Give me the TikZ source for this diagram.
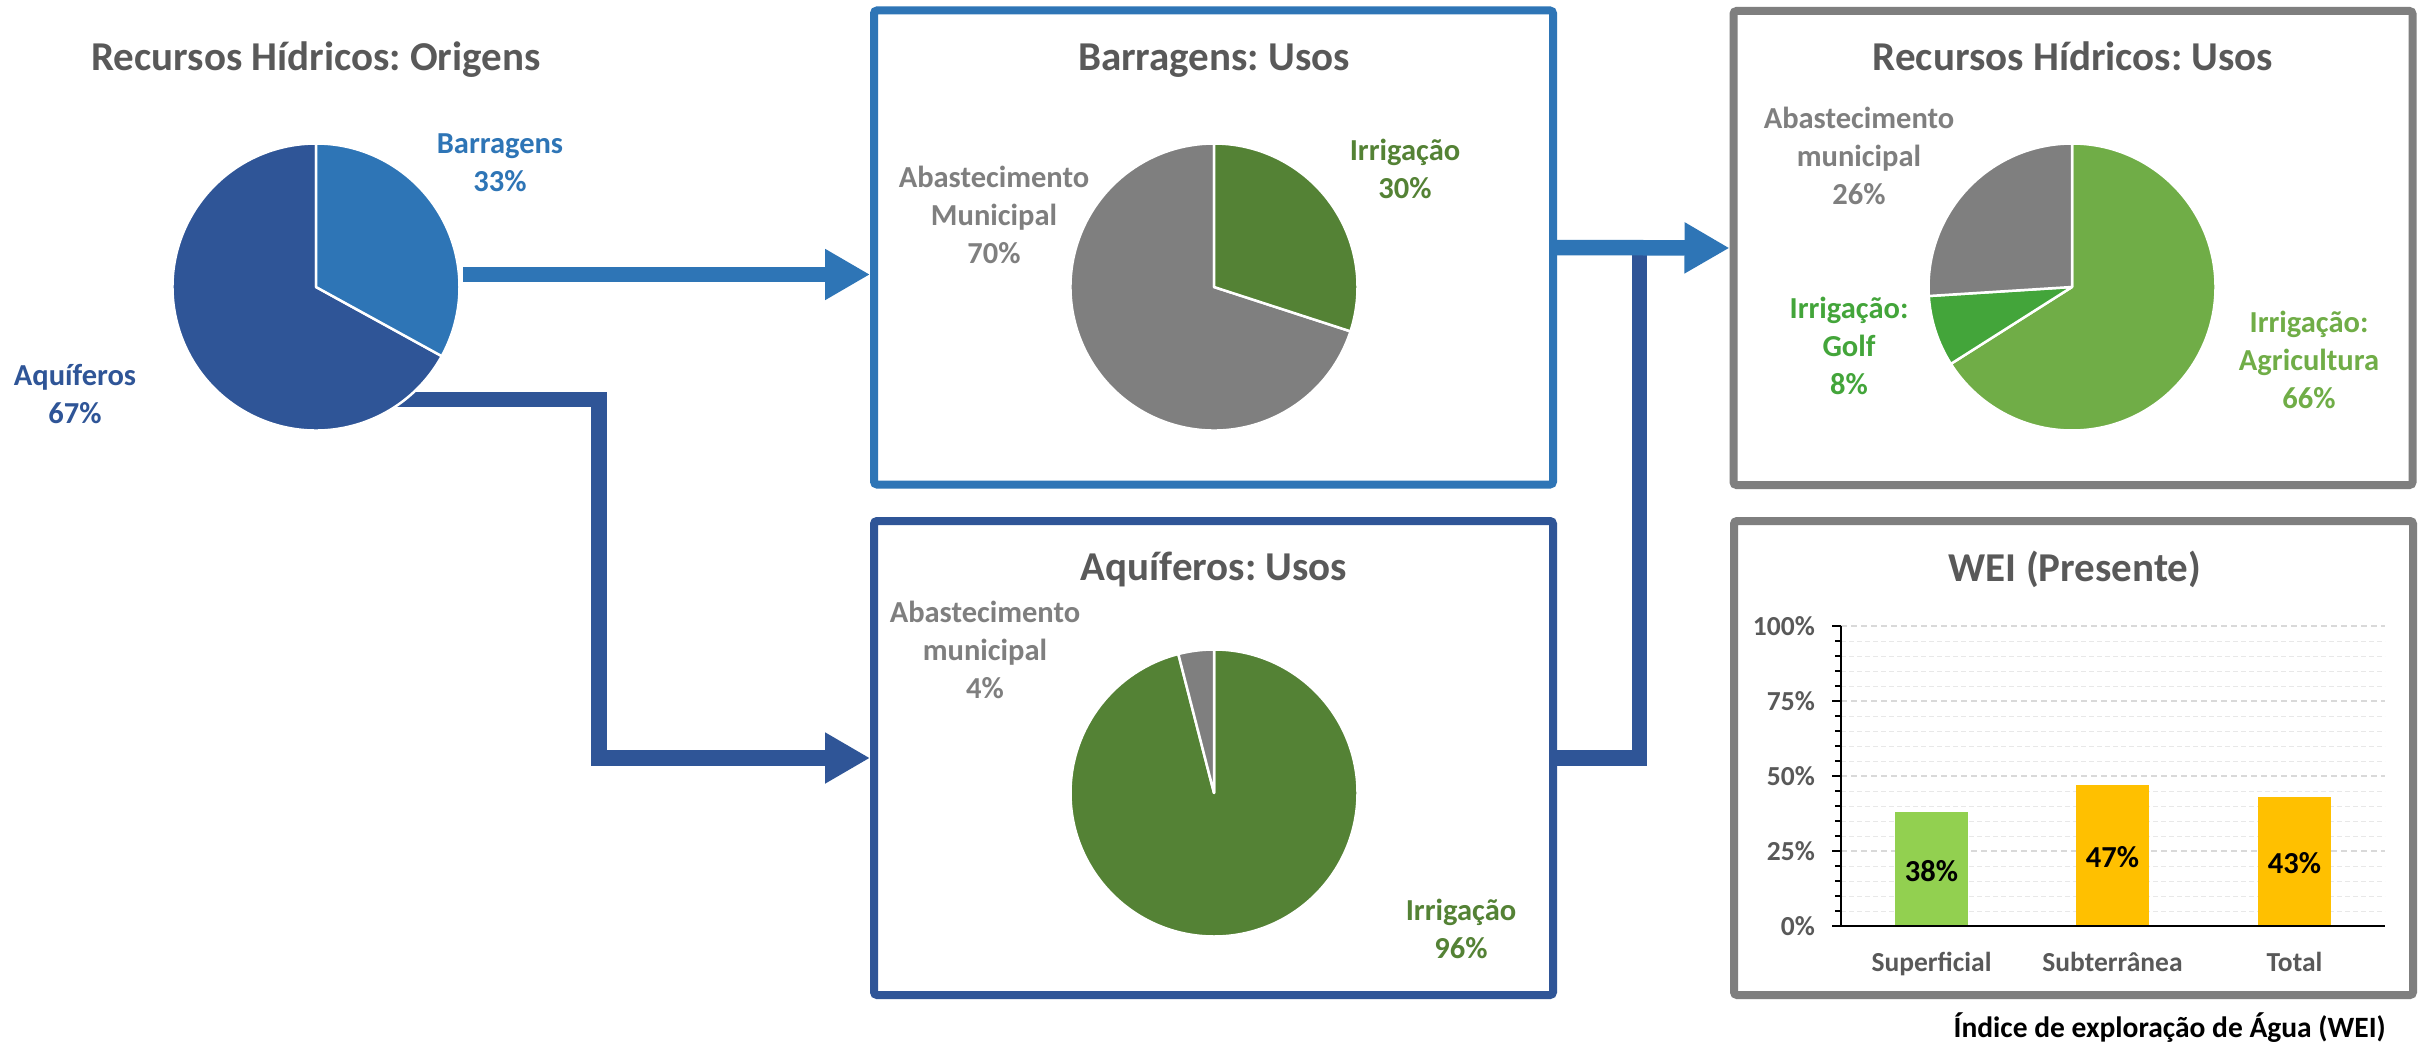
\documentclass[tikz,border=0pt]{standalone}
\usepackage{fontspec}
\setmainfont{Carlito}
\usepackage{tikz}
\usetikzlibrary{arrows.meta,positioning,calc}
\frenchspacing

\definecolor{blueL}{HTML}{2E75B6}
\definecolor{blueD}{HTML}{2F5597}
\definecolor{greenD}{HTML}{548235}
\definecolor{greenA}{HTML}{70AD47}
\definecolor{greenG}{HTML}{43A53A}
\definecolor{greyM}{HTML}{7F7F7F}
\definecolor{titlegrey}{HTML}{595959}
\definecolor{gridgrey}{HTML}{D9D9D9}
\definecolor{barGreen}{HTML}{92D050}
\definecolor{barYellow}{HTML}{FFC000}

\begin{document}
\begin{tikzpicture}[
  x=1pt, y=1pt,
  ttl/.style={font=\fontsize{41}{49}\selectfont\bfseries, text=titlegrey, anchor=base, inner sep=0pt},
  lbl/.style={font=\fontsize{30.5}{38}\selectfont\bfseries, align=center, inner sep=0pt},
  small/.style={font=\fontsize{27.5}{33}\selectfont\bfseries, inner sep=0pt},
  panel/.style={draw, line width=8pt, rounded corners=3pt, rectangle, minimum width=679pt, minimum height=474pt, inner sep=0pt},
  piebase/.style={circle, minimum size=287pt, inner sep=0pt, outer sep=0pt},
  slice/.style={draw=white, line width=2.5pt, line join=round},
  arrL/.style={-{Triangle[length=45pt, width=48pt]}, line width=15.5pt, blueL},
  arrD/.style={-{Triangle[length=45pt, width=48pt]}, line width=15.5pt, blueD},
  linkD/.style={line width=15.5pt, blueD},
  bar/.style={rectangle, minimum width=73pt, inner sep=0pt, anchor=south},
  gridmaj/.style={gridgrey, line width=2pt, dash pattern=on 6pt off 4pt},
  gridmin/.style={gridgrey!60, line width=1pt, dash pattern=on 5pt off 3pt},
  axisln/.style={black, line width=2pt}
]
\useasboundingbox[fill=white] (0,0) rectangle (2433,-1051);

% panels
\node[panel, draw=blueL] (boxB) at (1213.5,-247.5) {};
\node[panel, draw=blueD] (boxC) at (1213.5,-758) {};
\node[panel, draw=greyM] (boxD) at (2073,-248) {};
\node[panel, draw=greyM] (boxE) at (2073.5,-758) {};

% pie nodes
\node[piebase] (pieA) at (316,-287) {};
\node[piebase] (pieB) at (1214,-287) {};
\node[piebase] (pieC) at (1214,-793) {};
\node[piebase] (pieD) at (2072,-287) {};

% connectors
\draw[arrL] ([xshift=4.5pt]pieA.5.6) -- (pieA.5.6 -| boxB.west);
\draw[arrD] ([yshift=-112.5pt]pieA.center) -| ([xshift=-271pt]boxC.west) -- (boxC.west);
\draw[linkD] (boxC.east) -| ([xshift=-90pt]boxD.west);
\draw[arrL] (boxB.east) -- (boxD.west);

% origens
\draw[slice, fill=blueD] (pieA.center) -- ++(-28.8:143.5) arc[start angle=-28.8, end angle=-270, radius=143.5] -- cycle;
\draw[slice, fill=blueL] (pieA.center) -- ++(90:143.5) arc[start angle=90, end angle=-28.8, radius=143.5] -- cycle;
\node[ttl] (tOrig) at (316,-71) {Recursos Hídricos: Origens};
\node[lbl, text=blueL] (lBarr) at (500,-162.5) {Barragens\\33\%};
\node[lbl, text=blueD] (lAqui) at (75,-394) {Aquíferos\\67\%};

% barragens
\draw[slice, fill=greyM] (pieB.center) -- ++(-18:143.5) arc[start angle=-18, end angle=-270, radius=143.5] -- cycle;
\draw[slice, fill=greenD] (pieB.center) -- ++(90:143.5) arc[start angle=90, end angle=-18, radius=143.5] -- cycle;
\node[ttl] (tBarr) at (1214,-71) {Barragens: Usos};
\node[lbl, text=greenD] (lBIrr) at (1405,-169) {Irrigação\\30\%};
\node[lbl, text=greyM] (lBMun) at (994,-215) {Abastecimento\\Municipal\\70\%};

% aquiferos
\draw[slice, fill=greenD] (pieC.center) -- ++(90:143.5) arc[start angle=90, end angle=-255.6, radius=143.5] -- cycle;
\draw[slice, fill=greyM] (pieC.center) -- ++(90:143.5) arc[start angle=90, end angle=104.4, radius=143.5] -- cycle;
\node[ttl] (tAqui) at (1214,-580.5) {Aquíferos: Usos};
\node[lbl, text=greyM] (lCMun) at (985,-650) {Abastecimento\\municipal\\4\%};
\node[lbl, text=greenD] (lCIrr) at (1461,-929) {Irrigação\\96\%};

% usos totais
\draw[slice, fill=greenA] (pieD.center) -- ++(90:143.5) arc[start angle=90, end angle=-147.6, radius=143.5] -- cycle;
\draw[slice, fill=greenG] (pieD.center) -- ++(-147.6:143.5) arc[start angle=-147.6, end angle=-176.4, radius=143.5] -- cycle;
\draw[slice, fill=greyM] (pieD.center) -- ++(-176.4:143.5) arc[start angle=-176.4, end angle=-270, radius=143.5] -- cycle;
\node[ttl] (tUsos) at (2073,-71) {Recursos Hídricos: Usos};
\node[lbl, text=greyM] (lDMun) at (1859,-156) {Abastecimento\\municipal\\26\%};
\node[lbl, text=greenG] (lDGolf) at (1849,-345.5) {Irrigação:\\Golf\\8\%};
\node[lbl, text=greenA] (lDAgri) at (2309,-359.5) {Irrigação:\\Agricultura\\66\%};

% WEI chart
\node[ttl] (tWEI) at (2075,-581) {WEI (Presente)};
\foreach \p in {5,10,15,20,30,35,40,45,55,60,65,70,80,85,90,95}
  \draw[gridmin] (1841,{-926+3*\p}) -- (2385,{-926+3*\p});
\foreach \p in {25,50,75,100}
  \draw[gridmaj] (1841,{-926+3*\p}) -- (2385,{-926+3*\p});
\node[bar, fill=barGreen] (barSup) at (1931.5,-926) [minimum height=114pt] {};
\node[bar, fill=barYellow] (barSub) at (2112.5,-926) [minimum height=141pt] {};
\node[bar, fill=barYellow] (barTot) at (2294.5,-926) [minimum height=129pt] {};
\foreach \p in {0,5,...,100}
  \draw[axisln] (1835,{-926+3*\p}) -- (1841,{-926+3*\p});
\foreach \p in {0,25,50,75,100}
  \draw[axisln] (1832,{-926+3*\p}) -- (1841,{-926+3*\p});
\draw[axisln] (1841,-626) -- (1841,-926);
\draw[axisln] (1832,-926) -- (2385,-926);
\node[small, anchor=east, text=titlegrey] (y0) at (1815,-926) {0\%};
\node[small, anchor=east, text=titlegrey] (y25) at (1815,-851) {25\%};
\node[small, anchor=east, text=titlegrey] (y50) at (1815,-776) {50\%};
\node[small, anchor=east, text=titlegrey] (y75) at (1815,-701) {75\%};
\node[small, anchor=east, text=titlegrey] (y100) at (1815,-626) {100\%};
\node[lbl] (vSup) at ([yshift=-2pt]barSup.center) {38\%};
\node[lbl] (vSub) at ([yshift=-2pt]barSub.center) {47\%};
\node[lbl] (vTot) at ([yshift=-2pt]barTot.center) {43\%};
\node[small, anchor=base, text=titlegrey] (cSup) at (1931.5,-971) {Superficial};
\node[small, anchor=base, text=titlegrey] (cSub) at (2112.5,-971) {Subterrânea};
\node[small, anchor=base, text=titlegrey] (cTot) at (2294.5,-971) {Total};
\node[small, font=\fontsize{29.5}{35}\selectfont\bfseries, anchor=base east] (note) at (2386,-1037) {Índice de exploração de Água (WEI)};
\end{tikzpicture}
\end{document}
